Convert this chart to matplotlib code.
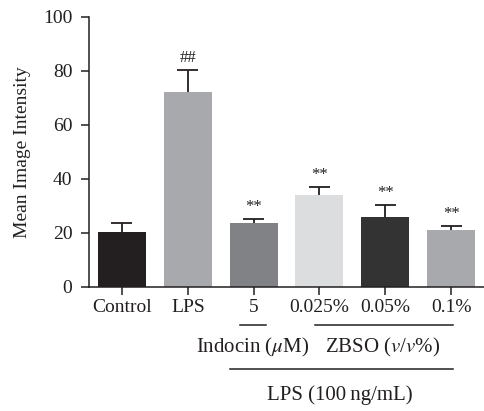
import matplotlib.pyplot as plt
import numpy as np

plt.rcParams['font.family'] = ['Liberation Serif', 'DejaVu Serif']
plt.rcParams['mathtext.fontset'] = 'stix'

# Dane
groups = ['Control', 'LPS', '5', '0.025%', '0.05%', '0.1%']
means = [20.4, 72.2, 23.6, 34.0, 25.8, 21.0]
errors = [3.1, 8.3, 1.6, 3.0, 4.6, 1.7]
marks = ['', '##', '**', '**', '**', '**']
colors = ['#231f20', '#a7a9ac', '#808285', '#dcdddf', '#333333', '#a7a9ac']

ink = '#231f20'
fig = plt.figure(figsize=(4.84, 4.11), dpi=100)
ax = fig.add_axes([0.184, 0.302, 0.816, 0.657])

x = np.arange(len(groups))
ax.bar(x, means, width=0.73, color=colors, zorder=2)
tops = np.array(means) + np.array(errors)
# tylko górna część słupka błędu
ax.vlines(x, means, tops, color=ink, lw=1.3, zorder=3)
ax.hlines(tops, x - 0.16, x + 0.16, color=ink, lw=1.3, zorder=3)

for xi, t, s in zip(x, tops, marks):
    if s:
        ax.text(xi, t + 1.3, s, ha='center', va='bottom', fontsize=12, color=ink)

ax.set_xlim(-0.5, 5.5)
ax.set_ylim(0, 100)
ax.set_yticks([0, 20, 40, 60, 80, 100])
ax.set_xticks(x)
ax.set_xticklabels(groups)
ax.set_ylabel('Mean Image Intensity', fontsize=14, color=ink, labelpad=9)
for sp in ['top', 'right']:
    ax.spines[sp].set_visible(False)
for sp in ['left', 'bottom']:
    ax.spines[sp].set_linewidth(1.1)
    ax.spines[sp].set_color(ink)
ax.tick_params(axis='both', direction='out', length=6, width=1.1,
               labelsize=14, colors=ink)
ax.tick_params(axis='y', pad=6)
ax.tick_params(axis='x', pad=3)

# Podpisy grup pod osią
def line(x0, x1, ypix):
    y = 1 - ypix / 411
    fig.add_artist(plt.Line2D([x0 / 484, x1 / 484], [y, y], color=ink, lw=1.1))

line(240, 266, 325)
line(315, 453, 325)
line(230, 453, 369)
fig.text(253 / 484, 1 - 347 / 411, r'Indocin ($\mu$M)', ha='center', va='center',
         fontsize=15, color=ink)
fig.text(383 / 484, 1 - 347 / 411, r'ZBSO ($v$/$v$%)', ha='center', va='center',
         fontsize=15, color=ink)
fig.text(340 / 484, 1 - 395 / 411, 'LPS (100\u2009ng/mL)', ha='center', va='center',
         fontsize=15, color=ink)

fig.savefig('out.png', dpi=100)
